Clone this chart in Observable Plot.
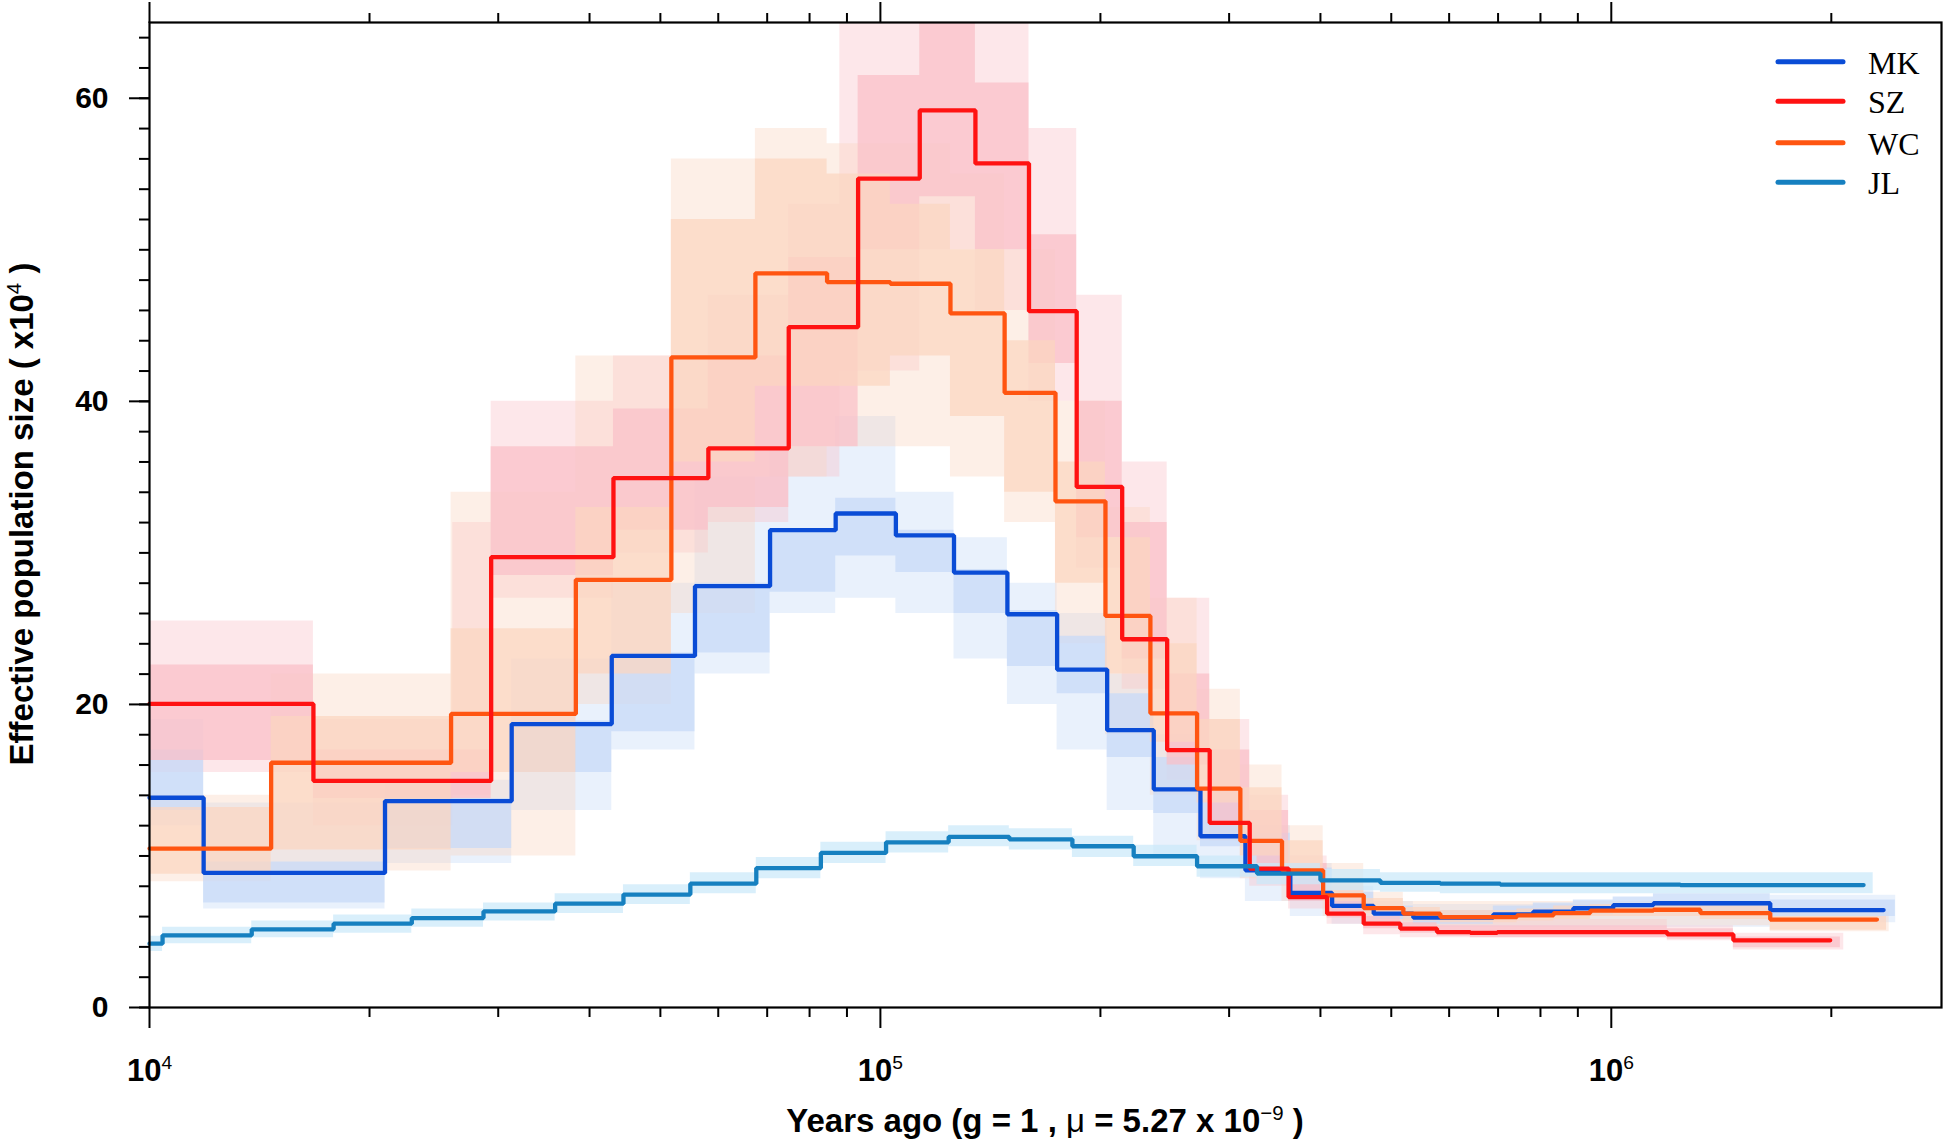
<!DOCTYPE html>
<html><head><meta charset="utf-8">
<script src="https://cdn.jsdelivr.net/npm/d3@7"></script>
<script src="https://cdn.jsdelivr.net/npm/@observablehq/plot@0.6"></script>
<style>
body{margin:0;background:#fff;}
#wrap{position:relative;width:1944px;height:1143px;background:#fff;}
#legend{position:absolute;left:1760px;top:30px;}
</style></head><body><div id="wrap"></div>
<script>
// ---------- data (years ago, Ne x10^4) ----------
const seriesNames = ["MK", "SZ", "WC", "JL"];
const lineColors = ["#0a4cd6", "#ff1212", "#ff5511", "#1680c0"];
const bandColors = ["#c6d9f8", "#f9bfc8", "#fbd6c0", "#cbe9fa"];

// main curves
const mkT  = [10000, 11860, 21000, 31300, 42900, 55760, 70640, 86860, 105000, 126100, 149200, 174500, 204300, 236600, 274100, 315800, 363800, 415000, 473100, 536000, 689700, 782300, 887300, 1006000, 1142000, 1650000, 2358000];
const mkNe = [13.84, 8.88, 13.62, 18.7, 23.2, 27.8, 31.5, 32.6, 31.15, 28.7, 25.95, 22.3, 18.3, 14.4, 11.3, 9.05, 7.56, 6.7, 6.19, 5.93, 6.15, 6.33, 6.55, 6.75, 6.88, 6.43, 6.43];
const szT  = [10000, 16760, 29340, 43130, 58160, 74920, 93220, 113200, 134900, 159700, 185600, 214200, 246800, 282200, 320100, 361800, 408500, 458400, 514500, 577500, 641400, 698300, 1193000, 1469000, 1993000];
const szNe = [20.03, 14.96, 29.72, 34.94, 36.9, 44.9, 54.7, 59.2, 55.7, 45.95, 34.35, 24.3, 16.99, 12.18, 9.17, 7.29, 6.19, 5.53, 5.2, 4.98, 4.93, 4.97, 4.82, 4.43, 4.43];
const wcT  = [10000, 14670, 25860, 38310, 51760, 67450, 84540, 103200, 124700, 147900, 173600, 203200, 234100, 271200, 310800, 354400, 403400, 458400, 519400, 583600, 743000, 833900, 936000, 1142000, 1324000, 1650000, 2309000];
const wcNe = [10.49, 16.15, 19.37, 28.22, 42.9, 48.45, 47.87, 47.76, 45.8, 40.56, 33.4, 25.84, 19.41, 14.45, 10.99, 9.05, 7.4, 6.56, 6.19, 5.97, 6.08, 6.23, 6.39, 6.45, 6.23, 5.8, 5.8];
const jlT  = [10000, 10420, 13800, 17860, 22850, 28640, 35890, 44510, 54950, 67640, 82900, 101800, 124000, 150100, 183100, 222100, 271200, 327600, 400000, 483200, 583600, 705000, 1243000, 2214000];
const jlNe = [4.21, 4.76, 5.16, 5.53, 5.9, 6.34, 6.85, 7.45, 8.17, 9.2, 10.2, 10.9, 11.26, 11.1, 10.64, 9.98, 9.32, 8.84, 8.39, 8.22, 8.17, 8.11, 8.08, 8.08];

// dense part of the bootstrap bundles (lower / upper edge)
const mkBandT = [10000, 11860, 21000, 31300, 42900, 55760, 70640, 86860, 105000, 126100, 149200, 174500, 204300, 236600, 274100, 315800, 363800, 415000, 473100, 536000, 689700, 782300, 887300, 1006000, 1142000, 1650000, 2447000];
const mkLo = [13.0, 6.9, 10.5, 15.5, 18.2, 23.4, 27.4, 29.8, 28.7, 26.0, 22.5, 20.7, 16.5, 12.8, 10.6, 8.9, 7.0, 6.3, 5.8, 5.5, 5.9, 6.0, 6.1, 6.2, 6.3, 6.0, 6.0];
const mkHi = [17.0, 9.6, 13.8, 18.9, 23.4, 28.0, 31.6, 33.6, 31.5, 28.9, 26.2, 24.5, 20.7, 16.5, 13.7, 11.5, 9.2, 7.6, 6.7, 6.4, 6.7, 6.9, 7.1, 7.3, 7.5, 7.1, 7.1];
const szBandT = [10000, 16760, 29340, 43130, 58160, 74920, 93220, 113200, 134900, 159700, 185600, 214200, 246800, 282200, 320100, 361800, 408500, 458400, 514500, 577500, 641400, 698300, 1193000, 1469000, 2058000];
const szLo = [16.3, 13.8, 28.5, 31.5, 33.0, 37.0, 50.0, 53.5, 50.0, 42.5, 31.0, 23.0, 16.0, 12.0, 9.0, 7.0, 5.9, 5.2, 4.9, 4.7, 4.6, 4.6, 4.5, 3.95, 3.95];
const szHi = [22.6, 17.0, 37.0, 39.5, 43.0, 49.5, 61.5, 65.0, 61.0, 51.0, 40.0, 32.0, 22.0, 17.0, 13.0, 9.5, 7.2, 6.0, 5.6, 5.4, 5.4, 5.4, 5.2, 4.65, 4.65];
const wcBandT = [10000, 14670, 25860, 38310, 51760, 67450, 84540, 103200, 124700, 147900, 173600, 203200, 234100, 271200, 310800, 354400, 403400, 458400, 519400, 583600, 743000, 833900, 936000, 1142000, 1324000, 1650000, 2380000];
const wcLo = [8.8, 10.4, 15.5, 22.0, 36.0, 41.0, 41.0, 43.0, 39.0, 34.0, 28.0, 22.0, 17.5, 13.5, 10.0, 8.5, 7.0, 6.2, 5.7, 5.6, 5.7, 5.8, 6.0, 6.0, 5.8, 5.1, 5.1];
const wcHi = [13.2, 19.2, 25.0, 33.0, 52.0, 56.0, 55.0, 53.0, 50.0, 44.0, 36.0, 31.0, 24.0, 19.0, 14.5, 11.0, 8.5, 7.2, 6.6, 6.4, 6.5, 6.7, 6.8, 6.9, 6.7, 6.0, 6.0];
const jlBandT = [10000, 10420, 13800, 17860, 22850, 28640, 35890, 44510, 54950, 67640, 82900, 101800, 124000, 150100, 183100, 222100, 271200, 327600, 400000, 483200, 583600, 705000, 1243000, 2282000];
const jlLo = [3.7, 4.2, 4.6, 4.9, 5.3, 5.7, 6.2, 6.8, 7.5, 8.5, 9.5, 10.2, 10.6, 10.4, 9.9, 9.3, 8.6, 8.1, 7.7, 7.6, 7.5, 7.5, 7.5, 7.5];
const jlHi = [4.7, 5.3, 5.7, 6.1, 6.5, 6.9, 7.5, 8.1, 8.9, 9.9, 10.9, 11.6, 12.0, 11.8, 11.3, 10.7, 10.0, 9.5, 9.1, 8.9, 8.9, 8.9, 8.9, 8.9];

// faint outer spread of the bootstrap bundles
const mkFaintT  = [10000, 11860, 21000, 31300, 42900, 55760, 70640, 86860, 105000, 126100, 149200, 174500, 204300, 236600, 274100, 315800, 363800, 415000, 473100, 536000, 1650000, 2450000];
const mkFaintLo = [12.0, 6.5, 9.5, 13.0, 17.0, 22.0, 26.0, 27.0, 26.0, 23.0, 20.0, 17.0, 13.0, 10.0, 8.5, 7.0, 6.0, 5.5, 5.3, 5.3, 5.6, 5.6];
const mkFaintHi = [19.0, 13.5, 15.0, 23.0, 28.0, 35.0, 37.0, 39.0, 34.0, 31.0, 28.0, 26.0, 22.0, 18.0, 14.5, 12.0, 9.5, 8.0, 7.0, 6.8, 7.4, 7.4];
const szFaintT  = [10000, 16760, 26000, 29340, 43130, 58160, 74920, 88000, 113200, 134900, 159700, 185600, 214200, 246800, 282200, 320100, 361800, 408500, 458400, 514500, 1193000, 1469000, 2080000];
const szFaintLo = [15.5, 12.0, 14.0, 27.0, 30.0, 32.0, 35.0, 42.0, 50.0, 46.0, 40.0, 29.0, 21.0, 15.0, 11.0, 8.0, 6.5, 5.5, 4.8, 4.6, 4.4, 3.8, 3.8];
const szFaintHi = [25.5, 19.0, 32.0, 40.0, 43.0, 47.0, 53.0, 65.0, 65.0, 65.0, 58.0, 47.0, 36.0, 27.0, 19.0, 14.0, 10.0, 8.0, 6.5, 5.8, 5.4, 4.9, 4.9];
const wcFaintT  = [10000, 14670, 25860, 38310, 51760, 67450, 84540, 103200, 124700, 147900, 173600, 203200, 234100, 271200, 310800, 354400, 403400, 458400, 519400, 1650000, 2400000];
const wcFaintLo = [8.3, 9.0, 10.0, 20.0, 26.0, 35.0, 37.0, 37.0, 35.0, 32.0, 24.0, 18.0, 14.0, 11.0, 8.5, 7.0, 6.0, 5.6, 5.4, 5.0, 5.0];
const wcFaintHi = [14.0, 22.0, 34.0, 43.0, 56.0, 58.0, 57.0, 57.0, 55.0, 50.0, 40.0, 33.0, 27.0, 21.0, 16.0, 12.0, 9.5, 7.6, 7.0, 6.3, 6.3];

// axis ticks
const xMajor = [1e4, 1e5, 1e6];
const xExponents = ["4", "5", "6"];
const xMinor = [2e4, 3e4, 4e4, 5e4, 6e4, 7e4, 8e4, 9e4, 2e5, 3e5, 4e5, 5e5, 6e5, 7e5, 8e5, 9e5, 2e6];
const yMajor = [0, 20, 40, 60];
const yMinor = [0, 2, 4, 6, 8, 10, 12, 14, 16, 18, 20, 22, 24, 26, 28, 30, 32, 34, 36, 38, 40, 42, 44, 46, 48, 50, 52, 54, 56, 58, 60, 62, 64];

// ---------- build tables ----------
const line = (T, N) => T.map((t, i) => ({t, n: N[i]}));
const band = (T, L, H) => T.map((t, i) => ({t, lo: L[i], hi: H[i]}));
const lines = [line(mkT, mkNe), line(szT, szNe), line(wcT, wcNe), line(jlT, jlNe)];
const bands = [band(mkBandT, mkLo, mkHi), band(szBandT, szLo, szHi), band(wcBandT, wcLo, wcHi), band(jlBandT, jlLo, jlHi)];
const faint = [band(mkFaintT, mkFaintLo, mkFaintHi), band(szFaintT, szFaintLo, szFaintHi), band(wcFaintT, wcFaintLo, wcFaintHi)];

const FONT = "'Liberation Sans', Arial, Helvetica, sans-serif";
const drawOrder = [0, 2, 1, 3]; // MK, WC, SZ, JL

const chart = Plot.plot({
  width: 1944,
  height: 1143,
  marginLeft: 149,
  marginRight: 3,
  marginTop: 22,
  marginBottom: 136,
  style: {fontFamily: FONT, background: "#fff", color: "#000"},
  x: {type: "log", domain: [1e4, 2.83e6]},
  y: {domain: [0, 65]},
  marks: [
    ...[0, 1, 2].map(i => Plot.areaY(faint[i], {x: "t", y1: "lo", y2: "hi", curve: "step-after", fill: bandColors[i], fillOpacity: 0.38})),
    ...[0, 1, 2, 3].map(i => Plot.areaY(bands[i], {x: "t", y1: "lo", y2: "hi", curve: "step-after", fill: bandColors[i], fillOpacity: 0.72})),
    ...drawOrder.map(i => Plot.line(lines[i], {x: "t", y: "n", curve: "step-after", stroke: lineColors[i], strokeWidth: 4.3, strokeLinejoin: "miter", strokeLinecap: "round"})),
    Plot.frame({stroke: "#000", strokeWidth: 2.2}),
    Plot.axisY(yMinor, {tickSize: 10, tickFormat: () => "", label: null, strokeWidth: 2}),
    Plot.axisY(yMajor, {tickSize: 20, tickPadding: 21, fontSize: 30, fontWeight: "bold", label: null, strokeWidth: 2}),
    Plot.axisX(xMinor, {anchor: "bottom", tickSize: 10, tickFormat: () => "", label: null, strokeWidth: 2}),
    Plot.axisX(xMajor, {anchor: "bottom", tickSize: 21, tickPadding: 30, fontSize: 31, fontWeight: "bold", tickFormat: () => "10", label: null, strokeWidth: 2}),
    Plot.axisX(xMinor, {anchor: "top", tickSize: 10, tickFormat: () => "", label: null, strokeWidth: 2}),
    Plot.axisX(xMajor, {anchor: "top", tickSize: 21, tickFormat: () => "", label: null, strokeWidth: 2})
  ]
});

const svg = d3.select(chart);
// superscript exponents on x tick labels
let k = 0;
svg.selectAll("text").each(function() {
  const t = d3.select(this);
  if (t.text() === "10" && k < xExponents.length) {
    t.append("tspan").attr("dy", "-0.6em").attr("font-size", "0.62em").attr("font-weight", "normal").text(xExponents[k++]);
  }
});
// axis titles
const yl = svg.append("text")
  .attr("transform", "translate(33,514) rotate(-90)")
  .attr("text-anchor", "middle").attr("font-family", FONT).attr("font-size", 33).attr("font-weight", "bold").attr("fill", "#000");
yl.append("tspan").text("Effective population size ( x10");
yl.append("tspan").attr("dy", "-0.6em").attr("font-size", "0.62em").attr("font-weight", "normal").text("4");
yl.append("tspan").attr("dy", "0.37em").text(" )");

const xl = svg.append("text")
  .attr("x", 1045).attr("y", 1132)
  .attr("text-anchor", "middle").attr("font-family", FONT).attr("font-size", 33).attr("font-weight", "bold").attr("fill", "#000");
xl.append("tspan").text("Years ago (g = 1 , ");
xl.append("tspan").attr("font-weight", "normal").text("μ");
xl.append("tspan").text(" = 5.27 x 10");
xl.append("tspan").attr("dy", "-0.6em").attr("font-size", "0.62em").attr("font-weight", "normal").text("−9");
xl.append("tspan").attr("dy", "0.37em").text(" )");

const wrap = document.getElementById("wrap");
wrap.appendChild(chart);

// legend (inside the plot, top right)
const lg = d3.select(wrap).append("svg").attr("id", "legend").attr("width", 184).attr("height", 190);
seriesNames.forEach((name, i) => {
  const cy = [31.7, 71.3, 112.7, 152.3][i];
  lg.append("line").attr("x1", 18).attr("x2", 83).attr("y1", cy).attr("y2", cy)
    .attr("stroke", lineColors[i]).attr("stroke-width", 5).attr("stroke-linecap", "round");
  lg.append("text").attr("x", 108).attr("y", cy + 12).attr("font-family", "'Liberation Serif', 'Times New Roman', serif")
    .attr("font-size", 32).attr("fill", "#000").text(name);
});
</script></body></html>
